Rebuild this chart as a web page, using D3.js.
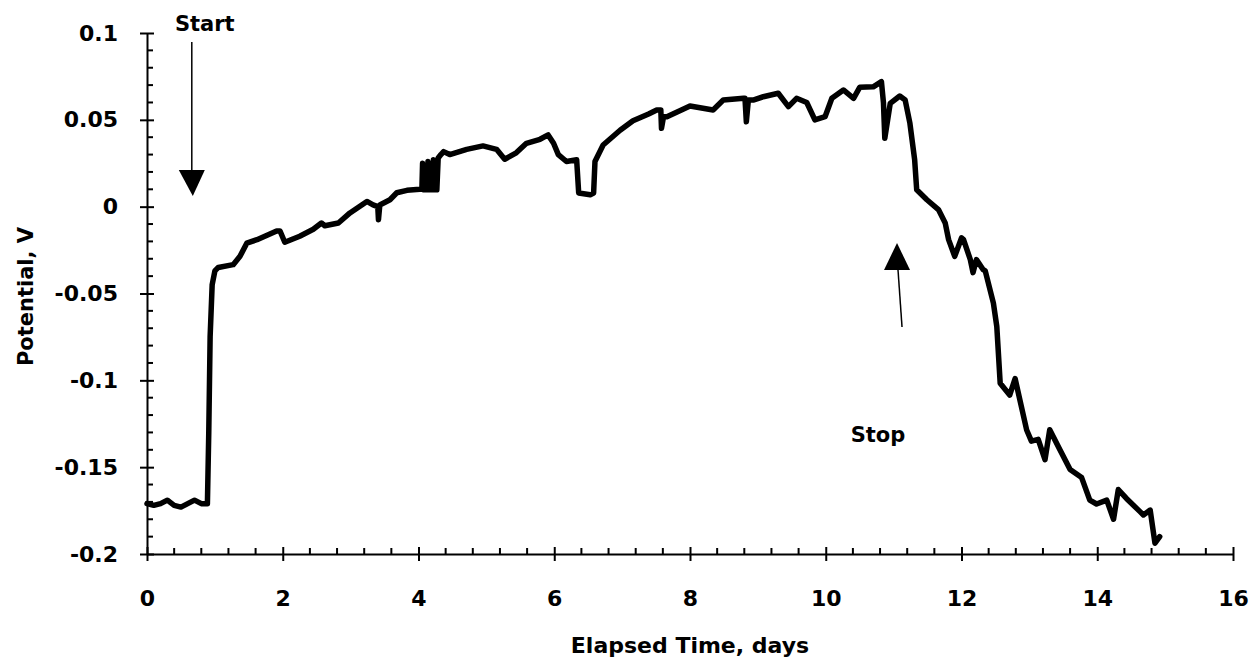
<!DOCTYPE html>
<html>
<head>
<meta charset="utf-8">
<script src="https://cdn.jsdelivr.net/npm/d3@7"></script>
<style>
  body { margin: 0; background: #fff; }
  text { font-family: "DejaVu Sans", Verdana, sans-serif; font-weight: bold; fill: #000; }
  .ejes path, .ejes line { stroke: #000; stroke-width: 2; }
  .menor line { stroke: #000; stroke-width: 2; }
</style>
</head>
<body>
<div id="graf"></div>
<script>
// valores
const days = [0, 0.1, 0.2, 0.3, 0.4, 0.5, 0.6, 0.7, 0.8, 0.89, 0.91, 0.93, 0.96, 1.0, 1.05,
  1.27, 1.37, 1.47, 1.62, 1.91, 1.96, 2.03, 2.25, 2.45, 2.57, 2.62, 2.82, 2.99, 3.24, 3.33,
  3.40, 3.41, 3.43, 3.58, 3.68, 3.83, 4.02, 4.05, 4.06, 4.08, 4.13, 4.14, 4.16, 4.21, 4.22,
  4.25, 4.27, 4.29, 4.33, 4.37, 4.46, 4.71, 4.95, 5.15, 5.27, 5.44, 5.59, 5.79, 5.91, 5.99,
  6.06, 6.18, 6.33, 6.36, 6.53, 6.58, 6.60, 6.72, 6.97, 7.16, 7.39, 7.51, 7.57, 7.58, 7.61,
  7.66, 8.0, 8.34, 8.49, 8.79, 8.81, 8.83, 8.86, 8.93, 9.08, 9.30, 9.45, 9.57, 9.72, 9.84,
  9.99, 10.09, 10.26, 10.41, 10.50, 10.70, 10.82, 10.85, 10.87, 10.95, 11.09, 11.17, 11.24, 11.31, 11.34,
  11.49, 11.66, 11.76, 11.81, 11.90, 12.0, 12.03, 12.13, 12.17, 12.22, 12.32, 12.35, 12.47, 12.52, 12.57,
  12.71, 12.79, 12.86, 12.96, 13.03, 13.13, 13.23, 13.30, 13.45, 13.60, 13.77, 13.89, 13.99, 14.14, 14.24,
  14.31, 14.43, 14.63, 14.68, 14.78, 14.85, 14.92]
const potential = [-0.171, -0.172, -0.171, -0.169, -0.172, -0.173, -0.171, -0.169, -0.171, -0.171, -0.13, -0.075, -0.045, -0.037, -0.035,
  -0.0334, -0.0286, -0.021, -0.019, -0.014, -0.014, -0.0205, -0.017, -0.013, -0.0094, -0.011, -0.0094, -0.0036, 0.003, 0.001,
  0.0, -0.0075, 0.001, 0.004, 0.008, 0.0094, 0.010, 0.010, 0.025, 0.0097, 0.0097, 0.026, 0.0097, 0.0097, 0.027,
  0.0097, 0.0097, 0.028, 0.030, 0.0317, 0.030, 0.033, 0.035, 0.033, 0.0273, 0.031, 0.0365, 0.0388, 0.0413, 0.0365,
  0.030, 0.026, 0.027, 0.0079, 0.0069, 0.0079, 0.026, 0.0355, 0.044, 0.0495, 0.0534, 0.0557, 0.0557, 0.0451, 0.0518,
  0.0518, 0.058, 0.0557, 0.0614, 0.0624, 0.0624, 0.0489, 0.0614, 0.0614, 0.0633, 0.0653, 0.0576, 0.0624, 0.060, 0.050,
  0.0518, 0.0624, 0.0672, 0.0624, 0.0687, 0.069, 0.072, 0.060, 0.0394, 0.0595, 0.0637, 0.0614, 0.048, 0.0269, 0.0097,
  0.004, -0.0017, -0.0094, -0.019, -0.0286, -0.018, -0.019, -0.0305, -0.038, -0.0305, -0.0363, -0.037, -0.0555, -0.069, -0.1017,
  -0.1085, -0.099, -0.1113, -0.1286, -0.135, -0.134, -0.1457, -0.1284, -0.140, -0.1514, -0.156, -0.169, -0.1712, -0.169, -0.180,
  -0.1629, -0.168, -0.1756, -0.1775, -0.1747, -0.1938, -0.190]

const xTicks = [0, 2, 4, 6, 8, 10, 12, 14, 16]
const yTicks = [0.1, 0.05, 0, -0.05, -0.1, -0.15, -0.2]
const yTickLabels = ["0.1", "0.05", "0", "-0.05", "-0.1", "-0.15", "-0.2"]
const annotations = [
  { label: "Start", day: 0.66, dir: "down" },
  { label: "Stop", day: 11.05, dir: "up" }
]

const graf = d3.select("#graf")
const margins = { left: 147, top: 33, right: 21, bottom: 106 }
const anchoTotal = 1254
const altoTotal = 660
const ancho = anchoTotal - margins.left - margins.right
const alto = altoTotal - margins.top - margins.bottom

const svg = graf.append("svg")
  .attr("width", anchoTotal)
  .attr("height", altoTotal)

const g = svg.append("g")
  .attr("transform", `translate(${margins.left}, ${margins.top})`)

const x = d3.scaleLinear().domain([0, 16]).range([0, ancho])
const y = d3.scaleLinear().domain([-0.2, 0.1]).range([alto, 0])

// ticks menores, hacia adentro
const xMinor = d3.range(1, 40).filter((i) => i % 5 != 0).map((i) => i * 0.4)
const yMinor = d3.range(1, 30).filter((i) => i % 5 != 0).map((i) => -0.2 + i * 0.01)

g.append("g")
  .attr("class", "menor")
  .selectAll("line")
  .data(xMinor)
  .join("line")
  .attr("x1", (d) => x(d))
  .attr("x2", (d) => x(d))
  .attr("y1", alto)
  .attr("y2", alto - 6)

g.append("g")
  .attr("class", "menor")
  .selectAll("line")
  .data(yMinor)
  .join("line")
  .attr("x1", 0)
  .attr("x2", 6)
  .attr("y1", (d) => y(d))
  .attr("y2", (d) => y(d))

const xAxis = g.append("g")
  .attr("class", "ejes")
  .attr("transform", `translate(0, ${alto})`)
  .call(d3.axisBottom(x).tickValues(xTicks).tickSizeInner(7).tickSizeOuter(0).tickPadding(29))
xAxis.selectAll(".tick line").attr("y1", -7)
xAxis.selectAll(".tick text").style("font-size", "22px")

const yAxis = g.append("g")
  .attr("class", "ejes")
  .call(d3.axisLeft(y).tickValues(yTicks).tickSizeInner(7).tickSizeOuter(0).tickPadding(22)
    .tickFormat((d, i) => yTickLabels[i]))
yAxis.selectAll(".tick line").attr("x1", 7)
yAxis.selectAll(".tick text").style("font-size", "22px")

g.append("text")
  .attr("x", x(8))
  .attr("y", alto + 99)
  .attr("text-anchor", "middle")
  .style("font-size", "22px")
  .text("Elapsed Time, days")

g.append("g")
  .attr("transform", `translate(-114, ${y(-0.05) + 3})`)
  .append("text")
  .attr("transform", "rotate(-90)")
  .attr("text-anchor", "middle")
  .style("font-size", "21px")
  .text("Potential, V")

const line = d3.line()
  .x((d) => x(d[0]))
  .y((d) => y(d[1]))

g.append("path")
  .datum(days.map((d, i) => [d, potential[i]]))
  .attr("d", line)
  .attr("fill", "none")
  .attr("stroke", "#000")
  .attr("stroke-width", 5.5)
  .attr("stroke-linejoin", "round")
  .attr("stroke-linecap", "round")

// flechas
const start = annotations[0]
const sx = x(start.day)
g.append("text").attr("x", sx + 13).attr("y", -2).attr("text-anchor", "middle")
  .style("font-size", "21px").text(start.label)
g.append("line").attr("x1", sx).attr("y1", 9).attr("x2", sx).attr("y2", 138)
  .attr("stroke", "#000").attr("stroke-width", 1.5)
g.append("path")
  .attr("d", `M${sx - 13},137 L${sx + 13},137 L${sx + 1},163 Z`)
  .attr("fill", "#000")

const stop = annotations[1]
const tx = x(stop.day)
g.append("path")
  .attr("d", `M${tx - 13},237 L${tx + 13},237 L${tx},210 Z`)
  .attr("fill", "#000")
g.append("line").attr("x1", tx + 1).attr("y1", 237).attr("x2", tx + 5).attr("y2", 294)
  .attr("stroke", "#000").attr("stroke-width", 1.5)
g.append("text").attr("x", tx - 19).attr("y", 409).attr("text-anchor", "middle")
  .style("font-size", "21px").text(stop.label)
</script>
</body>
</html>
